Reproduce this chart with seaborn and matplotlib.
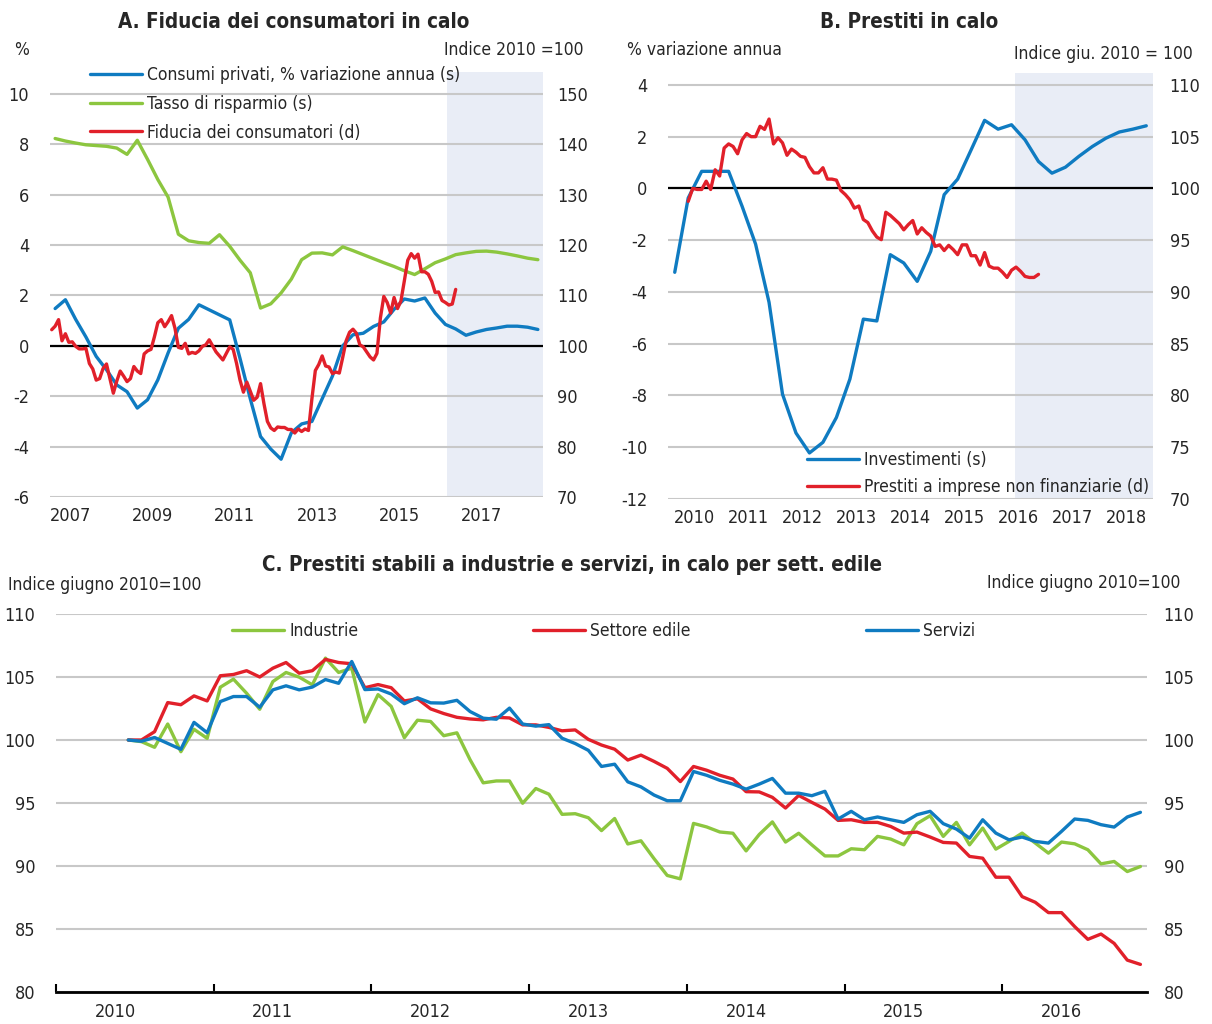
import matplotlib
matplotlib.use("Agg")
import matplotlib.pyplot as plt
from matplotlib.lines import Line2D
import pandas as pd
import seaborn as sns

# ------------------------------------------------------------------
# DATI
# ------------------------------------------------------------------
# Pannello A: trimestrali 2007T1-2018T4, fiducia mensile da gen 2007
anni_trim_A = [2007.125 + 0.25 * k for k in range(48)]
consumi_A = [1.48, 1.83, 1.05, 0.35, -0.42, -0.95, -1.55, -1.82, -2.47, -2.14,
             -1.35, -0.28, 0.7, 1.05, 1.63, 1.43, 1.23, 1.03, -0.5, -2.1,
             -3.6, -4.1, -4.5, -3.45, -3.1, -3.0, -2.1, -1.2, 0.0, 0.44,
             0.5, 0.77, 0.95, 1.45, 1.86, 1.78, 1.9, 1.3, 0.85, 0.67,
             0.42, 0.55, 0.65, 0.71, 0.78, 0.78, 0.74, 0.65]
risparmio_A = [8.23, 8.13, 8.05, 7.98, 7.95, 7.92, 7.85, 7.6, 8.16, 7.4,
               6.6, 5.9, 4.43, 4.17, 4.1, 4.07, 4.41, 3.95, 3.4, 2.9,
               1.5, 1.67, 2.1, 2.65, 3.42, 3.68, 3.69, 3.61, 3.93, 3.78,
               3.62, 3.46, 3.3, 3.15, 2.98, 2.83, 3.06, 3.3, 3.45, 3.62,
               3.69, 3.75, 3.76, 3.72, 3.65, 3.57, 3.48, 3.42]
fiducia_A = [103.2, 103.9, 105.2, 101.0, 102.4, 100.7, 100.8, 99.9, 99.4, 99.4,
             99.5, 96.5, 95.4, 93.2, 93.5, 95.5, 96.4, 93.5, 90.6, 93.0,
             95.0, 94.0, 92.9, 93.5, 95.9, 95.0, 94.5, 98.4, 99.0, 99.3,
             101.8, 104.6, 105.2, 103.8, 104.8, 106.0, 103.5, 99.7, 99.5, 100.5,
             98.4, 98.7, 98.5, 99.0, 99.9, 100.2, 101.2, 100.0, 98.8, 98.0,
             97.2, 98.5, 99.8, 99.3, 96.5, 93.2, 90.8, 92.8, 91.0, 89.2,
             89.8, 92.5, 88.5, 85.0, 83.7, 83.2, 83.9, 83.8, 83.8, 83.4,
             83.4, 82.7, 83.5, 83.0, 83.5, 83.2, 89.5, 95.1, 96.3, 98.0,
             96.0, 95.8, 94.5, 94.8, 94.6, 97.7, 101.0, 102.7, 103.3, 102.5,
             100.2, 99.8, 98.8, 97.8, 97.2, 98.5, 105.5, 109.8, 108.6, 106.5,
             109.6, 107.4, 108.9, 112.9, 117.0, 118.3, 117.4, 118.2, 114.7, 114.7,
             114.2, 112.8, 110.6, 110.7, 109.0, 108.6, 108.1, 108.3, 111.2]
anni_mese_A = [2007 + (m + 0.5) / 12 for m in range(len(fiducia_A))]

# Pannello B: investimenti trimestrali 2010T1-2018T4, prestiti mensili da mag 2010
anni_trim_B = [2010.125 + 0.25 * k for k in range(36)]
investimenti_B = [-3.24, -0.37, 0.66, 0.66, 0.66, -0.69, -2.15, -4.4, -7.95, -9.45,
                  -10.22, -9.81, -8.85, -7.37, -5.05, -5.12, -2.56, -2.88, -3.59, -2.43,
                  -0.24, 0.36, 1.49, 2.63, 2.29, 2.46, 1.88, 1.04, 0.59, 0.82,
                  1.24, 1.62, 1.94, 2.18, 2.29, 2.42]
prestiti_B = [98.75, 100.0, 99.9, 99.9, 100.7, 99.9, 101.8, 101.2, 103.9, 104.3,
              104.05, 103.35, 104.7, 105.3, 105.0, 105.0, 106.0, 105.7, 106.7, 104.3,
              104.9, 104.4, 103.2, 103.8, 103.5, 103.1, 103.0, 102.1, 101.5, 101.5,
              102.0, 100.9, 100.9, 100.8, 99.8, 99.4, 98.9, 98.1, 98.3, 97.0,
              96.7, 95.9, 95.3, 95.05, 97.7, 97.4, 97.0, 96.6, 96.0, 96.5,
              96.9, 95.6, 96.2, 95.75, 95.4, 94.4, 94.55, 94.0, 94.5, 94.1,
              93.6, 94.55, 94.55, 93.5, 93.5, 92.6, 93.8, 92.5, 92.3, 92.3,
              91.9, 91.4, 92.1, 92.4, 92.0, 91.5, 91.4, 91.4, 91.7]
anni_mese_B = [2010 + (m + 4.5) / 12 for m in range(len(prestiti_B))]

# Pannello C: mensili giu 2010 - nov 2016 (indice mese, gen 2010 = 0)
industrie_C = [100, 99.87, 99.42, 101.27, 99.07, 100.85, 100.13, 104.19, 104.83, 103.71,
               102.44, 104.64, 105.36, 104.99, 104.38, 106.5, 105.36, 105.7,
               101.43, 103.6, 102.67, 100.18, 101.57, 101.47, 100.34, 100.57, 98.44, 96.6,
               96.75, 96.75, 94.98, 96.15, 95.7, 94.1, 94.15, 93.83, 92.81, 93.77,
               91.75, 92.0, 90.58, 89.25, 88.98, 93.38, 93.1, 92.7, 92.6,
               91.2, 92.5, 93.5, 91.9, 92.6, 91.68, 90.8, 90.8, 91.37, 91.29,
               92.35, 92.14, 91.68, 93.36, 93.99, 92.35, 93.46, 91.68, 93.01, 91.34,
               91.95, 92.61, 91.82, 91.02, 91.9, 91.76, 91.29, 90.17, 90.36, 89.56, 89.96]
edile_C = [100, 100.0, 100.66, 102.97, 102.8, 103.5, 103.1, 105.1, 105.2, 105.5,
           105.0, 105.7, 106.15, 105.3, 105.5, 106.4, 106.15, 106.05,
           104.15, 104.4, 104.15, 103.1, 103.27, 102.47, 102.1, 101.8, 101.67, 101.6,
           101.8, 101.75, 101.2, 101.2, 101.0, 100.73, 100.8, 100.05, 99.6, 99.27,
           98.41, 98.8, 98.3, 97.75, 96.7, 97.9, 97.6, 97.2, 96.9,
           95.9, 95.88, 95.45, 94.6, 95.6, 95.05, 94.52, 93.62, 93.67, 93.46,
           93.46, 93.14, 92.61, 92.69, 92.3, 91.87, 91.82, 90.76, 90.62, 89.11,
           89.11, 87.57, 87.12, 86.3, 86.3, 85.19, 84.18, 84.6, 83.86, 82.53, 82.19]
servizi_C = [100, 99.9, 100.2, 99.73, 99.26, 101.4, 100.58, 103.05, 103.45, 103.45,
             102.6, 103.98, 104.3, 103.98, 104.2, 104.8, 104.5, 106.23,
             104.0, 104.05, 103.65, 102.88, 103.35, 102.95, 102.93, 103.15, 102.26, 101.73,
             101.65, 102.53, 101.27, 101.1, 101.22, 100.14, 99.72, 99.18, 97.9, 98.08,
             96.68, 96.28, 95.63, 95.18, 95.18, 97.5, 97.2, 96.8, 96.5,
             96.1, 96.5, 96.95, 95.78, 95.78, 95.58, 95.93, 93.73, 94.34, 93.67,
             93.89, 93.67, 93.46, 94.07, 94.34, 93.36, 92.93, 92.21, 93.67, 92.61,
             92.08, 92.3, 91.95, 91.82, 92.75, 93.73, 93.62, 93.28, 93.09, 93.89, 94.26]
mesi_C = list(range(5, 5 + len(servizi_C)))
anni_C = ["2010", "2011", "2012", "2013", "2014", "2015", "2016"]

# ------------------------------------------------------------------
# STILE
# ------------------------------------------------------------------
BLU = "#0F7BC1"
VERDE = "#8CC63F"
ROSSO = "#E1202A"
OMBRA = "#E9EDF6"
GRIGLIA = "#C8C8C8"
LW = 2.4
FS = 13      # etichette degli assi
FL = 12.5    # legende e unità
FT = 14.8    # titoli

sns.set_theme(style="white")
plt.rcParams["font.family"] = ["DejaVu Sans"]
plt.rcParams["font.stretch"] = "condensed"
plt.rcParams["axes.unicode_minus"] = False

W, H = 1212, 1024
fig = plt.figure(figsize=(W / 100, H / 100), dpi=100)


def box(l, t, r, b):
    return [l / W, 1 - b / H, (r - l) / W, (b - t) / H]


def px(x, y):
    return x / W, 1 - y / H


def base(ax):
    for s in ax.spines.values():
        s.set_visible(False)
    ax.set_xlabel("")
    ax.set_ylabel("")


def legenda(handles, labels, x, y, spazio, loc="upper left"):
    fig.legend(handles, labels, loc=loc, bbox_to_anchor=px(x, y), frameon=False,
               fontsize=FL, handlelength=3.0, handletextpad=0.3, labelspacing=spazio,
               borderpad=0, borderaxespad=0)


# ------------------------------------------------------------------
# A. Fiducia dei consumatori
# ------------------------------------------------------------------
dfA = pd.DataFrame({"anno": anni_trim_A, "consumi": consumi_A, "risparmio": risparmio_A})
dfA_m = pd.DataFrame({"anno": anni_mese_A, "fiducia": fiducia_A})

axA = fig.add_axes(box(50, 72, 543, 497))
axA.set_axisbelow(True)
axA.axvspan(2016.66, 2019.0, color=OMBRA, lw=0, zorder=0)
axA.grid(axis="y", color=GRIGLIA, lw=1.5)
axA.axhline(0, color="black", lw=1.6, zorder=1.5)
sns.lineplot(data=dfA, x="anno", y="risparmio", ax=axA, color=VERDE, lw=LW, legend=False)
sns.lineplot(data=dfA, x="anno", y="consumi", ax=axA, color=BLU, lw=LW, legend=False)
axA2 = axA.twinx()
sns.lineplot(data=dfA_m, x="anno", y="fiducia", ax=axA2, color=ROSSO, lw=LW, legend=False)
axA.set_xlim(2007.0, 2019.0)
axA.set_ylim(-6, 10.87)
axA.set_yticks(range(-6, 11, 2))
axA2.set_ylim(70, 100 + 5 * 10.87)
axA2.set_yticks(range(70, 151, 10))
axA.set_xticks([2007.5, 2009.5, 2011.5, 2013.5, 2015.5, 2017.5])
axA.set_xticklabels(["2007", "2009", "2011", "2013", "2015", "2017"])
for a in (axA, axA2):
    base(a)
axA.tick_params(axis="y", length=0, labelsize=FS, pad=15)
axA.tick_params(axis="x", length=0, labelsize=FS, pad=7)
axA2.tick_params(axis="y", length=0, labelsize=FS, pad=10)
axA2.grid(False)

legenda([Line2D([], [], color=c, lw=LW) for c in (BLU, VERDE, ROSSO)],
        ["Consumi privati, % variazione annua (s)", "Tasso di risparmio (s)",
         "Fiducia dei consumatori (d)"], 90, 66, 0.62)

fig.text(*px(14, 50), "%", fontsize=FL, va="center", ha="left")
fig.text(*px(584, 50), "Indice 2010 =100", fontsize=FL, va="center", ha="right")
fig.text(*px(294, 22), "A. Fiducia dei consumatori in calo", fontsize=FT,
         fontweight="bold", ha="center", va="center")

# ------------------------------------------------------------------
# B. Prestiti in calo
# ------------------------------------------------------------------
dfB = pd.DataFrame({"anno": anni_trim_B, "investimenti": investimenti_B})
dfB_m = pd.DataFrame({"anno": anni_mese_B, "prestiti": prestiti_B})

axB = fig.add_axes(box(668, 73, 1153, 499))
axB.set_axisbelow(True)
axB.axvspan(2016.44, 2019.0, color=OMBRA, lw=0, zorder=0)
axB.grid(axis="y", color=GRIGLIA, lw=1.5)
axB.axhline(0, color="black", lw=1.6, zorder=1.5)
sns.lineplot(data=dfB, x="anno", y="investimenti", ax=axB, color=BLU, lw=LW, legend=False)
axB2 = axB.twinx()
sns.lineplot(data=dfB_m, x="anno", y="prestiti", ax=axB2, color=ROSSO, lw=LW, legend=False)
axB.set_xlim(2010.0, 2019.0)
axB.set_ylim(-12, 4.46)
axB.set_yticks(range(-12, 5, 2))
axB2.set_ylim(70, 100 + 2.5 * 4.46)
axB2.set_yticks(range(70, 111, 5))
axB.set_xticks([y + 0.5 for y in range(2010, 2019)])
axB.set_xticklabels([str(y) for y in range(2010, 2019)])
for a in (axB, axB2):
    base(a)
axB.tick_params(axis="y", length=0, labelsize=FS, pad=15)
axB.tick_params(axis="x", length=0, labelsize=FS, pad=7)
axB2.tick_params(axis="y", length=0, labelsize=FS, pad=12)
axB2.grid(False)

legenda([Line2D([], [], color=c, lw=LW) for c in (BLU, ROSSO)],
        ["Investimenti (s)", "Prestiti a imprese non finanziarie (d)"], 807, 451, 0.5)

fig.text(*px(627, 50), "% variazione annua", fontsize=FL, va="center", ha="left")
fig.text(*px(1193, 54), "Indice giu. 2010 = 100", fontsize=FL, va="center", ha="right")
fig.text(*px(909, 22), "B. Prestiti in calo", fontsize=FT, fontweight="bold",
         ha="center", va="center")

# ------------------------------------------------------------------
# C. Prestiti per settore
# ------------------------------------------------------------------
dfC = pd.DataFrame({"mese": mesi_C, "Industrie": industrie_C,
                    "Settore edile": edile_C, "Servizi": servizi_C})
dfC_long = dfC.melt(id_vars="mese", var_name="settore", value_name="indice")

axC = fig.add_axes(box(56, 614, 1147, 992))
axC.set_axisbelow(True)
axC.grid(axis="y", color=GRIGLIA, lw=1.5)
sns.lineplot(data=dfC_long, x="mese", y="indice", hue="settore",
             hue_order=["Industrie", "Settore edile", "Servizi"],
             palette=[VERDE, ROSSO, BLU], lw=LW, ax=axC, legend=False)
axC.set_xlim(-0.5, 82.5)
axC.set_ylim(80, 110)
axC.set_yticks(range(80, 111, 5))
axC.set_xticks([-0.5 + 12 * k for k in range(7)])
axC.set_xticklabels([])
axC.set_xticks([4 + 12 * k for k in range(7)], minor=True)
axC.set_xticklabels(anni_C, minor=True)
base(axC)
axC.spines["bottom"].set_visible(True)
axC.spines["bottom"].set_color("black")
axC.spines["bottom"].set_linewidth(2)
axC.tick_params(axis="x", which="major", direction="in", length=6, width=1.5,
                color="black", bottom=True)
axC.tick_params(axis="x", which="minor", length=0, labelsize=FS, pad=8)
axC.tick_params(axis="y", length=0, labelsize=FS, pad=15)
axC2 = axC.twinx()
axC2.set_ylim(80, 110)
axC2.set_yticks(range(80, 111, 5))
base(axC2)
axC2.grid(False)
axC2.tick_params(axis="y", length=0, labelsize=FS, pad=12)

for x0, col, lab in [(232, VERDE, "Industrie"), (533, ROSSO, "Settore edile"),
                     (866, BLU, "Servizi")]:
    legenda([Line2D([], [], color=col, lw=LW)], [lab], x0, 631, 0.3, loc="center left")

fig.text(*px(8, 585), "Indice giugno 2010=100", fontsize=FL, va="center", ha="left")
fig.text(*px(1180, 583), "Indice giugno 2010=100", fontsize=FL, va="center", ha="right")
fig.text(*px(572, 565), "C. Prestiti stabili a industrie e servizi, in calo per sett. edile",
         fontsize=FT, fontweight="bold", ha="center", va="center")

fig.savefig("out.png", dpi=100, facecolor="white")
